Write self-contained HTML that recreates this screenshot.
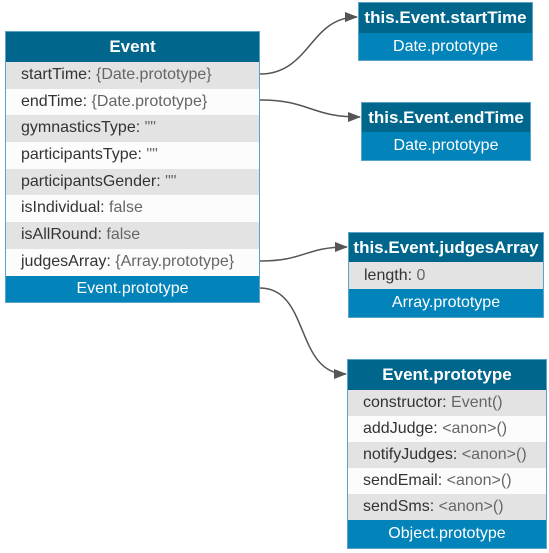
<!DOCTYPE html>
<html><head><style>
body{margin:0;width:549px;height:553px;background:#fff;position:relative;font-family:"Liberation Sans",Arial,sans-serif;overflow:hidden}
.b{position:absolute;border:1px solid #5aa3c8;box-sizing:border-box}
.h{background:#01668c;color:#fff;font-weight:bold;font-size:17px;text-align:center;box-sizing:border-box;white-space:nowrap}
.p{background:#0283ba;color:#fff;font-size:16px;text-align:center;box-sizing:border-box}
.r{font-size:16px;color:#333;padding-left:15px;box-sizing:border-box;white-space:nowrap}
.r span{color:#666}
.g{background:#e3e3e3}.w{background:#fcfcfc}
</style></head><body>
<svg width="549" height="553" style="position:absolute;left:0;top:0">
<defs><marker id="a" markerWidth="13" markerHeight="10" refX="12" refY="5" orient="auto" markerUnits="userSpaceOnUse"><path d="M0,0L13,5L0,10z" fill="#555"/></marker></defs>
<g fill="none" stroke="#555" stroke-width="1.5">
<path d="M260,74 C310,74 310,17 357,17" marker-end="url(#a)"/>
<path d="M260,100 C310,100 310,117 360,117" marker-end="url(#a)"/>
<path d="M260,261 C305,261 305,247 347,247" marker-end="url(#a)"/>
<path d="M260,288 C310,288 295,374 346,374" marker-end="url(#a)"/>
</g></svg>
<div class="b" style="left:5px;top:31px;width:255px">
<div class="h" style="height:30px;line-height:30px">Event</div>
<div class="r g" style="height:26.7px;line-height:26.7px">startTime: <span>{Date.prototype}</span></div>
<div class="r w" style="height:26.7px;line-height:26.7px">endTime: <span>{Date.prototype}</span></div>
<div class="r g" style="height:26.7px;line-height:26.7px">gymnasticsType: <span>""</span></div>
<div class="r w" style="height:26.7px;line-height:26.7px">participantsType: <span>""</span></div>
<div class="r g" style="height:26.7px;line-height:26.7px">participantsGender: <span>""</span></div>
<div class="r w" style="height:26.7px;line-height:26.7px">isIndividual: <span>false</span></div>
<div class="r g" style="height:26.7px;line-height:26.7px">isAllRound: <span>false</span></div>
<div class="r w" style="height:26.7px;line-height:26.7px">judgesArray: <span>{Array.prototype}</span></div>
<div class="p" style="height:26.7px;line-height:26.7px">Event.prototype</div>
</div>
<div class="b" style="left:358px;top:2px;width:175px">
<div class="h" style="height:30px;line-height:30px">this.Event.startTime</div>
<div class="p" style="height:27px;line-height:27px">Date.prototype</div></div>
<div class="b" style="left:361px;top:102px;width:170px">
<div class="h" style="height:29px;line-height:29px">this.Event.endTime</div>
<div class="p" style="height:28px;line-height:28px">Date.prototype</div></div>
<div class="b" style="left:348px;top:232px;width:196px">
<div class="h" style="height:29px;line-height:29px">this.Event.judgesArray</div>
<div class="r g" style="height:27px;line-height:27px">length: <span>0</span></div>
<div class="p" style="height:28px;line-height:28px">Array.prototype</div></div>
<div class="b" style="left:347px;top:359px;width:200px">
<div class="h" style="height:30px;line-height:30px">Event.prototype</div>
<div class="r g" style="height:26px;line-height:26px">constructor: <span>Event()</span></div>
<div class="r w" style="height:26px;line-height:26px">addJudge: <span>&lt;anon&gt;()</span></div>
<div class="r g" style="height:26px;line-height:26px">notifyJudges: <span>&lt;anon&gt;()</span></div>
<div class="r w" style="height:26px;line-height:26px">sendEmail: <span>&lt;anon&gt;()</span></div>
<div class="r g" style="height:26px;line-height:26px">sendSms: <span>&lt;anon&gt;()</span></div>
<div class="p" style="height:28px;line-height:28px">Object.prototype</div></div>
</body></html>
